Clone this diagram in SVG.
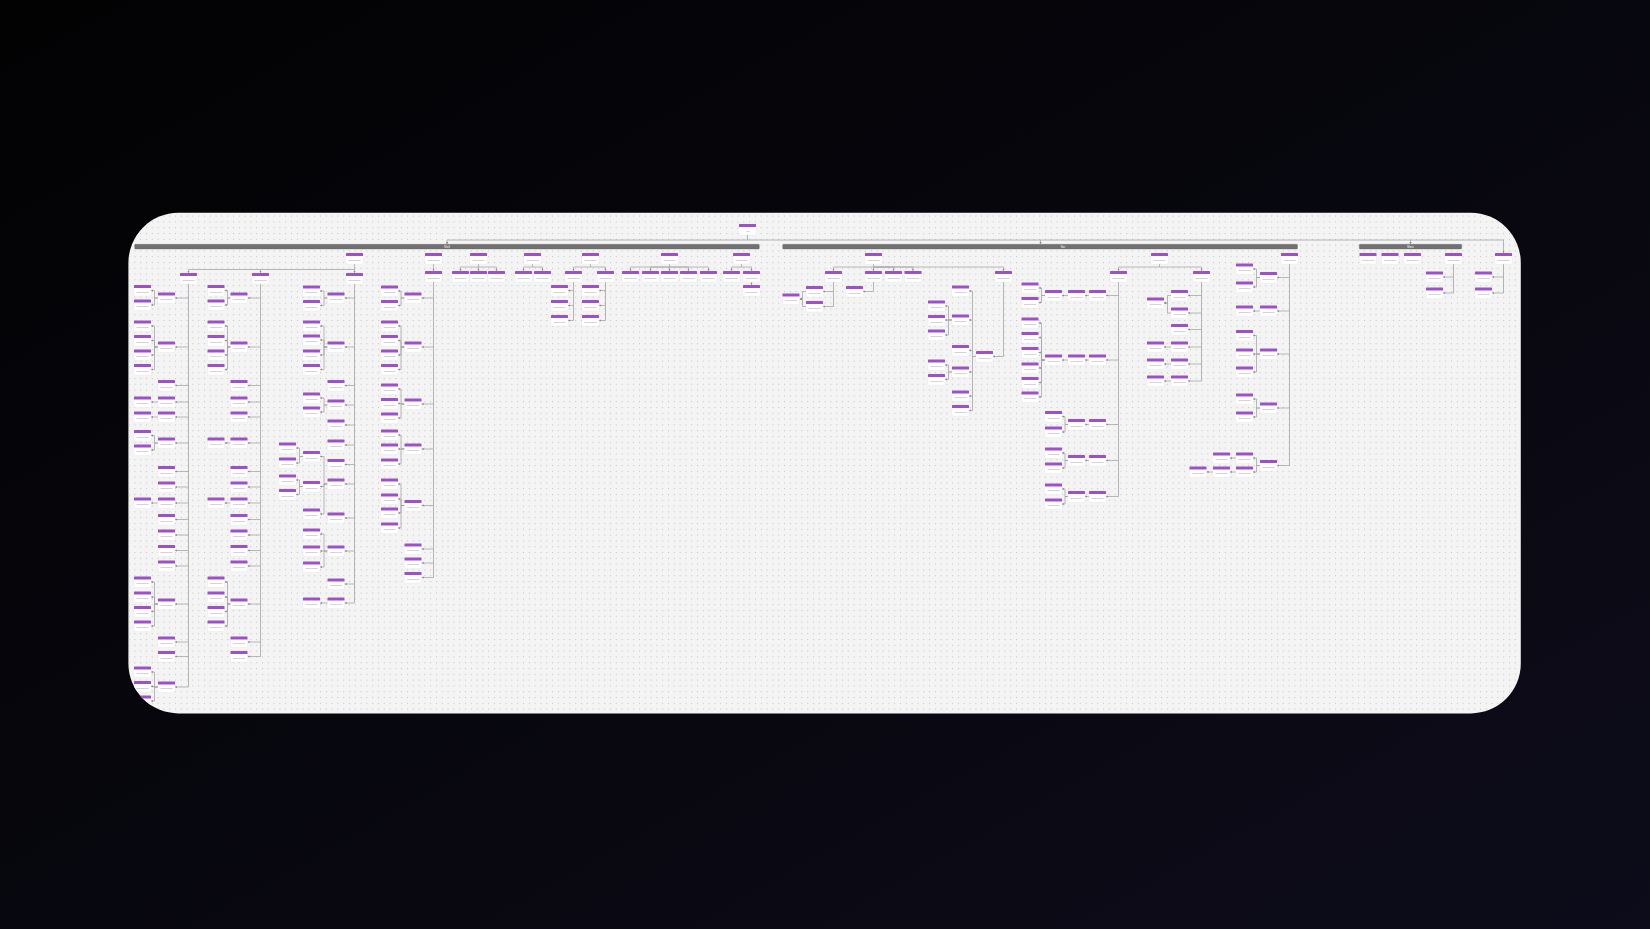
<svg xmlns="http://www.w3.org/2000/svg" width="1650" height="929" viewBox="0 0 1650 929">
<defs>
<linearGradient id="bg" x1="0" y1="0" x2="1" y2="1"><stop offset="0" stop-color="#020203"/><stop offset="1" stop-color="#0d0c1a"/></linearGradient>
<pattern id="dots" width="5.8" height="5.8" patternUnits="userSpaceOnUse"><circle cx="1.5" cy="1.5" r="0.6" fill="#bdbdbd"/></pattern>
<clipPath id="pc"><rect x="128.4" y="212.8" width="1392.4" height="500.6" rx="50"/></clipPath>
<marker id="a" viewBox="0 0 4 4" markerWidth="2.2" markerHeight="2.2" refX="4" refY="2" orient="auto" markerUnits="userSpaceOnUse"><path d="M0,0L4,2L0,4z" fill="#8a8a8a"/></marker>
<g id="nd"><rect width="17" height="11" rx="1" fill="#ffffff" stroke="#e0e0e0" stroke-width="0.3"/><rect width="17" height="3" rx="0.6" fill="#9c52c6"/></g>
</defs>
<style>
text{font-family:"Liberation Sans",Arial,sans-serif;font-size:2.3px;fill:#8a8a8a;text-anchor:middle}
.bl{font-size:2.6px;fill:#ffffff}
.bar{fill:#717171;stroke:#5c5c5c;stroke-width:0.3}
#edges path{fill:none;stroke:#a3a3a3;stroke-width:0.75;marker-end:url(#a)}
#trunks path{fill:none;stroke:#a3a3a3;stroke-width:0.8}
</style>
<rect width="1650" height="929" fill="url(#bg)"/>
<rect x="128.4" y="212.8" width="1392.4" height="500.6" rx="50" fill="#f4f4f4"/>
<g clip-path="url(#pc)">
<rect x="128" y="212" width="1394" height="502" fill="url(#dots)"/>
<g id="bars">
<rect class="bar" x="134.7" y="244.3" width="624.6" height="4.7" rx="0.8"/><text class="bl" x="447" y="247.6">Shell</text>
<rect class="bar" x="782.7" y="244.3" width="514.8" height="4.7" rx="0.8"/><text class="bl" x="1063" y="247.6">Bar</text>
<rect class="bar" x="1359.3" y="244.3" width="102.4" height="4.7" rx="0.8"/><text class="bl" x="1410.5" y="247.6">Menu</text>
</g>
<g id="trunks">
<path d="M747.5,235V240"/><path d="M447,240H1503.5"/>
<path d="M188.5,284V687"/><path d="M260.5,284V656.5"/><path d="M354.5,284V603"/><path d="M433.5,282V577.5"/>
<path d="M573.5,282V320.5"/><path d="M605.5,282V320.5"/>
<path d="M833.5,282V306.5"/><path d="M976,356.5H972.5"/><path d="M972.5,291V410.5"/>
<path d="M1118.5,282V496.5"/><path d="M1201.5,282V381"/><path d="M1289.5,264V465.5"/>
<path d="M1453.5,264V293"/><path d="M1503.5,264V293"/>
</g>
<g id="edges">
<path d="M447,240V244.3"/><path d="M1040.5,240V244.3"/><path d="M1410.5,240V244.3"/><path d="M1503.5,240V253"/>
<path d="M354.5,264V273"/><path d="M354.5,269.5H188.5V273"/><path d="M260.5,269.5V273"/>
<path d="M433.5,264V271"/>
<path d="M478.5,264V271"/><path d="M478.5,267H460.5V271"/><path d="M478.5,267H496.5V271"/>
<path d="M532.5,264V267H523.5V271"/><path d="M532.5,267H542.5V271"/>
<path d="M590.5,264V267H573.5V271"/><path d="M590.5,267H605.5V271"/>
<path d="M669.5,264V271"/><path d="M669.5,267H630.5V271"/><path d="M669.5,267H650.5V271"/><path d="M669.5,267H688.5V271"/><path d="M669.5,267H708.5V271"/>
<path d="M741.5,264V267H731.5V271"/><path d="M741.5,267H751.5V271"/><path d="M751.5,282V285"/>
<path d="M573.5,290.5H568"/><path d="M573.5,305.5H568"/><path d="M573.5,320.5H568"/>
<path d="M605.5,290.5H599"/><path d="M605.5,305.5H599"/><path d="M605.5,320.5H599"/>
<path d="M188.5,298H175"/><path d="M188.5,347H175"/><path d="M188.5,385.5H175"/><path d="M188.5,402H175"/><path d="M188.5,417H175"/><path d="M188.5,443H175"/><path d="M188.5,471.5H175"/><path d="M188.5,487H175"/><path d="M188.5,503H175"/><path d="M188.5,519.5H175"/><path d="M188.5,535H175"/><path d="M188.5,550.5H175"/><path d="M188.5,566H175"/><path d="M188.5,604H175"/><path d="M188.5,642H175"/><path d="M188.5,656.5H175"/><path d="M188.5,687H175"/>
<path d="M158,298H154.5V290.5H151"/><path d="M158,298H154.5V305H151"/>
<path d="M158,347H154.5V326H151"/><path d="M158,347H154.5V340.5H151"/><path d="M158,347H154.5V355H151"/><path d="M158,347H154.5V369.5H151"/>
<path d="M158,402H151"/><path d="M158,417H151"/>
<path d="M158,443H154.5V435.5H151"/><path d="M158,443H154.5V450H151"/>
<path d="M158,503H151"/>
<path d="M158,604H154.5V582H151"/><path d="M158,604H154.5V597H151"/><path d="M158,604H154.5V611.5H151"/><path d="M158,604H154.5V626H151"/>
<path d="M158,687H154.5V672H151"/><path d="M158,687H154.5V686.5H151"/><path d="M158,687H154.5V701H151"/>
<path d="M260.5,298H247.5"/><path d="M260.5,347H247.5"/><path d="M260.5,385.5H247.5"/><path d="M260.5,402H247.5"/><path d="M260.5,417H247.5"/><path d="M260.5,443H247.5"/><path d="M260.5,471.5H247.5"/><path d="M260.5,487H247.5"/><path d="M260.5,503H247.5"/><path d="M260.5,519.5H247.5"/><path d="M260.5,535H247.5"/><path d="M260.5,550.5H247.5"/><path d="M260.5,566H247.5"/><path d="M260.5,604H247.5"/><path d="M260.5,642H247.5"/><path d="M260.5,656.5H247.5"/>
<path d="M230.5,298H227.5V290.5H224.5"/><path d="M230.5,298H227.5V305H224.5"/>
<path d="M230.5,347H227.5V326H224.5"/><path d="M230.5,347H227.5V340.5H224.5"/><path d="M230.5,347H227.5V355H224.5"/><path d="M230.5,347H227.5V369.5H224.5"/>
<path d="M230.5,443H224.5"/><path d="M230.5,503H224.5"/>
<path d="M230.5,604H227.5V582H224.5"/><path d="M230.5,604H227.5V597H224.5"/><path d="M230.5,604H227.5V611.5H224.5"/><path d="M230.5,604H227.5V626H224.5"/>
<path d="M354.5,298H344.5"/><path d="M354.5,347H344.5"/><path d="M354.5,385.5H344.5"/><path d="M354.5,405H344.5"/><path d="M354.5,425H344.5"/><path d="M354.5,445H344.5"/><path d="M354.5,464.5H344.5"/><path d="M354.5,484H344.5"/><path d="M354.5,518H344.5"/><path d="M354.5,551H344.5"/><path d="M354.5,584H344.5"/><path d="M354.5,603H344.5"/>
<path d="M327.5,298H324V291H320"/><path d="M327.5,298H324V305.5H320"/>
<path d="M327.5,347H324V326H320"/><path d="M327.5,347H324V340H320"/><path d="M327.5,347H324V355H320"/><path d="M327.5,347H324V369.5H320"/>
<path d="M327.5,405H324V398H320"/><path d="M327.5,405H324V412H320"/>
<path d="M327.5,484H324V456.5H320"/><path d="M327.5,484H324V486.5H320"/><path d="M327.5,484H324V514H320"/>
<path d="M327.5,551H324V534H320"/><path d="M327.5,551H320"/><path d="M327.5,551H324V567H320"/>
<path d="M327.5,603H320"/>
<path d="M303,456.5H299.5V448H296"/><path d="M303,456.5H299.5V463H296"/>
<path d="M303,486.5H299.5V480H296"/><path d="M303,486.5H299.5V494.5H296"/>
<path d="M433.5,298H421.5"/><path d="M433.5,347H421.5"/><path d="M433.5,404H421.5"/><path d="M433.5,449H421.5"/><path d="M433.5,505.5H421.5"/><path d="M433.5,549H421.5"/><path d="M433.5,563H421.5"/><path d="M433.5,577.5H421.5"/>
<path d="M404.5,298H401V291H398"/><path d="M404.5,298H401V305.5H398"/>
<path d="M404.5,347H401V326H398"/><path d="M404.5,347H401V340.5H398"/><path d="M404.5,347H401V355H398"/><path d="M404.5,347H401V369.5H398"/>
<path d="M404.5,404H401V389H398"/><path d="M404.5,404H401V403.5H398"/><path d="M404.5,404H401V418H398"/>
<path d="M404.5,449H401V435H398"/><path d="M404.5,449H398"/><path d="M404.5,449H401V464H398"/>
<path d="M404.5,505.5H401V484H398"/><path d="M404.5,505.5H401V499H398"/><path d="M404.5,505.5H401V513H398"/><path d="M404.5,505.5H401V528H398"/>
<path d="M873.5,264V271"/><path d="M873.5,267H833.5V271"/><path d="M873.5,267H893.5V271"/><path d="M873.5,267H913V271"/><path d="M873.5,267H1003.5V271"/>
<path d="M833.5,291.5H823"/><path d="M833.5,306.5H823"/>
<path d="M806,291.5H802.5V299H799.5"/><path d="M806,306.5H802.5V299H799.5"/>
<path d="M873.5,282V291.5H863"/>
<path d="M1003.5,282V356.5H993"/>
<path d="M972.5,291H969"/><path d="M972.5,320H969"/><path d="M972.5,350.5H969"/><path d="M972.5,372H969"/><path d="M972.5,396H969"/><path d="M972.5,410.5H969"/>
<path d="M952,320H948.5V306H945"/><path d="M952,320H945"/><path d="M952,320H948.5V335H945"/>
<path d="M952,372H948.5V365H945"/><path d="M952,372H948.5V379.5H945"/>
<path d="M1159.5,264V267H1118.5V271"/><path d="M1159.5,267H1201.5V271"/>
<path d="M1118.5,295.5H1106"/><path d="M1118.5,360H1106"/><path d="M1118.5,424.5H1106"/><path d="M1118.5,460.5H1106"/><path d="M1118.5,496.5H1106"/>
<path d="M1089,295.5H1085"/><path d="M1089,360H1085"/><path d="M1089,424.5H1085"/><path d="M1089,460.5H1085"/><path d="M1089,496.5H1085"/>
<path d="M1068,295.5H1062"/><path d="M1068,360H1062"/>
<path d="M1045,295.5H1041.5V288H1038.5"/><path d="M1045,295.5H1041.5V302.5H1038.5"/>
<path d="M1045,360H1041.5V323H1038.5"/><path d="M1045,360H1041.5V337.5H1038.5"/><path d="M1045,360H1041.5V352.5H1038.5"/><path d="M1045,360H1041.5V368H1038.5"/><path d="M1045,360H1041.5V382.5H1038.5"/><path d="M1045,360H1041.5V397H1038.5"/>
<path d="M1068,424.5H1065V416.5H1062"/><path d="M1068,424.5H1065V432H1062"/>
<path d="M1068,460.5H1065V453H1062"/><path d="M1068,460.5H1065V468H1062"/>
<path d="M1068,496.5H1065V489H1062"/><path d="M1068,496.5H1065V504H1062"/>
<path d="M1201.5,295.5H1188"/><path d="M1201.5,313H1188"/><path d="M1201.5,329.5H1188"/><path d="M1201.5,347H1188"/><path d="M1201.5,364H1188"/><path d="M1201.5,381H1188"/>
<path d="M1171,295.5H1167.5V303H1164"/><path d="M1171,313H1167.5V303H1164"/>
<path d="M1171,347H1164"/><path d="M1171,364H1164"/><path d="M1171,381H1164"/>
<path d="M1289.5,277.5H1277"/><path d="M1289.5,311H1277"/><path d="M1289.5,354H1277"/><path d="M1289.5,408H1277"/><path d="M1289.5,465.5H1277"/>
<path d="M1260,277.5H1256.5V269H1253"/><path d="M1260,277.5H1256.5V287H1253"/>
<path d="M1260,311H1253"/>
<path d="M1260,354H1256.5V335.5H1253"/><path d="M1260,354H1253"/><path d="M1260,354H1256.5V372H1253"/>
<path d="M1260,408H1256.5V399H1253"/><path d="M1260,408H1256.5V417H1253"/>
<path d="M1260,465.5H1256.5V458H1253"/><path d="M1260,465.5H1256.5V472H1253"/>
<path d="M1236,458H1230"/><path d="M1236,472H1230"/><path d="M1213,472H1206.5"/>
<path d="M1453.5,277H1443"/><path d="M1453.5,293H1443"/>
<path d="M1503.5,277H1492"/><path d="M1503.5,293H1492"/>
</g>
<g id="nodes">
<g id="root"><use href="#nd" x="739" y="224"/><text x="747.5" y="231.8">App</text></g>
<g id="n1"><use href="#nd" x="346" y="253"/><text x="354.5" y="260.8">Component</text></g>
<g id="n2"><use href="#nd" x="425" y="253"/><text x="433.5" y="260.8">Component</text></g>
<g id="n3"><use href="#nd" x="470" y="253"/><text x="478.5" y="260.8">Component</text></g>
<g id="n4"><use href="#nd" x="524" y="253"/><text x="532.5" y="260.8">Component</text></g>
<g id="n5"><use href="#nd" x="582" y="253"/><text x="590.5" y="260.8">Component</text></g>
<g id="n6"><use href="#nd" x="661" y="253"/><text x="669.5" y="260.8">Component</text></g>
<g id="n7"><use href="#nd" x="733" y="253"/><text x="741.5" y="260.8">Component</text></g>
<g id="n8"><use href="#nd" x="180" y="273"/><text x="188.5" y="280.8">Component</text></g>
<g id="n9"><use href="#nd" x="252" y="273"/><text x="260.5" y="280.8">Component</text></g>
<g id="n10"><use href="#nd" x="346" y="273"/><text x="354.5" y="280.8">Component</text></g>
<g id="n11"><use href="#nd" x="425" y="271"/><text x="433.5" y="278.8">Component</text></g>
<g id="n12"><use href="#nd" x="452" y="271"/><text x="460.5" y="278.8">Component</text></g>
<g id="n13"><use href="#nd" x="470" y="271"/><text x="478.5" y="278.8">Component</text></g>
<g id="n14"><use href="#nd" x="488" y="271"/><text x="496.5" y="278.8">Component</text></g>
<g id="n15"><use href="#nd" x="515" y="271"/><text x="523.5" y="278.8">Component</text></g>
<g id="n16"><use href="#nd" x="534" y="271"/><text x="542.5" y="278.8">Component</text></g>
<g id="n17"><use href="#nd" x="565" y="271"/><text x="573.5" y="278.8">Component</text></g>
<g id="n18"><use href="#nd" x="597" y="271"/><text x="605.5" y="278.8">Component</text></g>
<g id="n19"><use href="#nd" x="622" y="271"/><text x="630.5" y="278.8">Component</text></g>
<g id="n20"><use href="#nd" x="642" y="271"/><text x="650.5" y="278.8">Component</text></g>
<g id="n21"><use href="#nd" x="661" y="271"/><text x="669.5" y="278.8">Component</text></g>
<g id="n22"><use href="#nd" x="680" y="271"/><text x="688.5" y="278.8">Component</text></g>
<g id="n23"><use href="#nd" x="700" y="271"/><text x="708.5" y="278.8">Component</text></g>
<g id="n24"><use href="#nd" x="723" y="271"/><text x="731.5" y="278.8">Component</text></g>
<g id="n25"><use href="#nd" x="743" y="271"/><text x="751.5" y="278.8">Component</text></g>
<g id="n26"><use href="#nd" x="743" y="285"/><text x="751.5" y="292.8">Component</text></g>
<g id="n27"><use href="#nd" x="551" y="285"/><text x="559.5" y="292.8">Component</text></g>
<g id="n28"><use href="#nd" x="551" y="300"/><text x="559.5" y="307.8">Component</text></g>
<g id="n29"><use href="#nd" x="551" y="315"/><text x="559.5" y="322.8">Component</text></g>
<g id="n30"><use href="#nd" x="582" y="285"/><text x="590.5" y="292.8">Component</text></g>
<g id="n31"><use href="#nd" x="582" y="300"/><text x="590.5" y="307.8">Component</text></g>
<g id="n32"><use href="#nd" x="582" y="315"/><text x="590.5" y="322.8">Component</text></g>
<g id="n33"><use href="#nd" x="158" y="292.5"/><text x="166.5" y="300.3">Component</text></g>
<g id="n34"><use href="#nd" x="158" y="341.5"/><text x="166.5" y="349.3">Component</text></g>
<g id="n35"><use href="#nd" x="158" y="380"/><text x="166.5" y="387.8">Component</text></g>
<g id="n36"><use href="#nd" x="158" y="396.5"/><text x="166.5" y="404.3">Component</text></g>
<g id="n37"><use href="#nd" x="158" y="411.5"/><text x="166.5" y="419.3">Component</text></g>
<g id="n38"><use href="#nd" x="158" y="437.5"/><text x="166.5" y="445.3">Component</text></g>
<g id="n39"><use href="#nd" x="158" y="466"/><text x="166.5" y="473.8">Component</text></g>
<g id="n40"><use href="#nd" x="158" y="481.5"/><text x="166.5" y="489.3">Component</text></g>
<g id="n41"><use href="#nd" x="158" y="497.5"/><text x="166.5" y="505.3">Component</text></g>
<g id="n42"><use href="#nd" x="158" y="514"/><text x="166.5" y="521.8">Component</text></g>
<g id="n43"><use href="#nd" x="158" y="529.5"/><text x="166.5" y="537.3">Component</text></g>
<g id="n44"><use href="#nd" x="158" y="545"/><text x="166.5" y="552.8">Component</text></g>
<g id="n45"><use href="#nd" x="158" y="560.5"/><text x="166.5" y="568.3">Component</text></g>
<g id="n46"><use href="#nd" x="158" y="598.5"/><text x="166.5" y="606.3">Component</text></g>
<g id="n47"><use href="#nd" x="158" y="636.5"/><text x="166.5" y="644.3">Component</text></g>
<g id="n48"><use href="#nd" x="158" y="651"/><text x="166.5" y="658.8">Component</text></g>
<g id="n49"><use href="#nd" x="158" y="681.5"/><text x="166.5" y="689.3">Component</text></g>
<g id="n50"><use href="#nd" x="134" y="285"/><text x="142.5" y="292.8">Component</text></g>
<g id="n51"><use href="#nd" x="134" y="299.5"/><text x="142.5" y="307.3">Component</text></g>
<g id="n52"><use href="#nd" x="134" y="320.5"/><text x="142.5" y="328.3">Component</text></g>
<g id="n53"><use href="#nd" x="134" y="335"/><text x="142.5" y="342.8">Component</text></g>
<g id="n54"><use href="#nd" x="134" y="349.5"/><text x="142.5" y="357.3">Component</text></g>
<g id="n55"><use href="#nd" x="134" y="364"/><text x="142.5" y="371.8">Component</text></g>
<g id="n56"><use href="#nd" x="134" y="396.5"/><text x="142.5" y="404.3">Component</text></g>
<g id="n57"><use href="#nd" x="134" y="411.5"/><text x="142.5" y="419.3">Component</text></g>
<g id="n58"><use href="#nd" x="134" y="430"/><text x="142.5" y="437.8">Component</text></g>
<g id="n59"><use href="#nd" x="134" y="444.5"/><text x="142.5" y="452.3">Component</text></g>
<g id="n60"><use href="#nd" x="134" y="497.5"/><text x="142.5" y="505.3">Component</text></g>
<g id="n61"><use href="#nd" x="134" y="576.5"/><text x="142.5" y="584.3">Component</text></g>
<g id="n62"><use href="#nd" x="134" y="591.5"/><text x="142.5" y="599.3">Component</text></g>
<g id="n63"><use href="#nd" x="134" y="606"/><text x="142.5" y="613.8">Component</text></g>
<g id="n64"><use href="#nd" x="134" y="620.5"/><text x="142.5" y="628.3">Component</text></g>
<g id="n65"><use href="#nd" x="134" y="666.5"/><text x="142.5" y="674.3">Component</text></g>
<g id="n66"><use href="#nd" x="134" y="681"/><text x="142.5" y="688.8">Component</text></g>
<g id="n67"><use href="#nd" x="134" y="695.5"/><text x="142.5" y="703.3">Component</text></g>
<g id="n68"><use href="#nd" x="230.5" y="292.5"/><text x="239" y="300.3">Component</text></g>
<g id="n69"><use href="#nd" x="230.5" y="341.5"/><text x="239" y="349.3">Component</text></g>
<g id="n70"><use href="#nd" x="230.5" y="380"/><text x="239" y="387.8">Component</text></g>
<g id="n71"><use href="#nd" x="230.5" y="396.5"/><text x="239" y="404.3">Component</text></g>
<g id="n72"><use href="#nd" x="230.5" y="411.5"/><text x="239" y="419.3">Component</text></g>
<g id="n73"><use href="#nd" x="230.5" y="437.5"/><text x="239" y="445.3">Component</text></g>
<g id="n74"><use href="#nd" x="230.5" y="466"/><text x="239" y="473.8">Component</text></g>
<g id="n75"><use href="#nd" x="230.5" y="481.5"/><text x="239" y="489.3">Component</text></g>
<g id="n76"><use href="#nd" x="230.5" y="497.5"/><text x="239" y="505.3">Component</text></g>
<g id="n77"><use href="#nd" x="230.5" y="514"/><text x="239" y="521.8">Component</text></g>
<g id="n78"><use href="#nd" x="230.5" y="529.5"/><text x="239" y="537.3">Component</text></g>
<g id="n79"><use href="#nd" x="230.5" y="545"/><text x="239" y="552.8">Component</text></g>
<g id="n80"><use href="#nd" x="230.5" y="560.5"/><text x="239" y="568.3">Component</text></g>
<g id="n81"><use href="#nd" x="230.5" y="598.5"/><text x="239" y="606.3">Component</text></g>
<g id="n82"><use href="#nd" x="230.5" y="636.5"/><text x="239" y="644.3">Component</text></g>
<g id="n83"><use href="#nd" x="230.5" y="651"/><text x="239" y="658.8">Component</text></g>
<g id="n84"><use href="#nd" x="207.5" y="285"/><text x="216" y="292.8">Component</text></g>
<g id="n85"><use href="#nd" x="207.5" y="299.5"/><text x="216" y="307.3">Component</text></g>
<g id="n86"><use href="#nd" x="207.5" y="320.5"/><text x="216" y="328.3">Component</text></g>
<g id="n87"><use href="#nd" x="207.5" y="335"/><text x="216" y="342.8">Component</text></g>
<g id="n88"><use href="#nd" x="207.5" y="349.5"/><text x="216" y="357.3">Component</text></g>
<g id="n89"><use href="#nd" x="207.5" y="364"/><text x="216" y="371.8">Component</text></g>
<g id="n90"><use href="#nd" x="207.5" y="437.5"/><text x="216" y="445.3">Component</text></g>
<g id="n91"><use href="#nd" x="207.5" y="497.5"/><text x="216" y="505.3">Component</text></g>
<g id="n92"><use href="#nd" x="207.5" y="576.5"/><text x="216" y="584.3">Component</text></g>
<g id="n93"><use href="#nd" x="207.5" y="591.5"/><text x="216" y="599.3">Component</text></g>
<g id="n94"><use href="#nd" x="207.5" y="606"/><text x="216" y="613.8">Component</text></g>
<g id="n95"><use href="#nd" x="207.5" y="620.5"/><text x="216" y="628.3">Component</text></g>
<g id="n96"><use href="#nd" x="327.5" y="292.5"/><text x="336" y="300.3">Component</text></g>
<g id="n97"><use href="#nd" x="327.5" y="341.5"/><text x="336" y="349.3">Component</text></g>
<g id="n98"><use href="#nd" x="327.5" y="380"/><text x="336" y="387.8">Component</text></g>
<g id="n99"><use href="#nd" x="327.5" y="399.5"/><text x="336" y="407.3">Component</text></g>
<g id="n100"><use href="#nd" x="327.5" y="419.5"/><text x="336" y="427.3">Component</text></g>
<g id="n101"><use href="#nd" x="327.5" y="439.5"/><text x="336" y="447.3">Component</text></g>
<g id="n102"><use href="#nd" x="327.5" y="459"/><text x="336" y="466.8">Component</text></g>
<g id="n103"><use href="#nd" x="327.5" y="478.5"/><text x="336" y="486.3">Component</text></g>
<g id="n104"><use href="#nd" x="327.5" y="512.5"/><text x="336" y="520.3">Component</text></g>
<g id="n105"><use href="#nd" x="327.5" y="545.5"/><text x="336" y="553.3">Component</text></g>
<g id="n106"><use href="#nd" x="327.5" y="578.5"/><text x="336" y="586.3">Component</text></g>
<g id="n107"><use href="#nd" x="327.5" y="597.5"/><text x="336" y="605.3">Component</text></g>
<g id="n108"><use href="#nd" x="303" y="285.5"/><text x="311.5" y="293.3">Component</text></g>
<g id="n109"><use href="#nd" x="303" y="300"/><text x="311.5" y="307.8">Component</text></g>
<g id="n110"><use href="#nd" x="303" y="320.5"/><text x="311.5" y="328.3">Component</text></g>
<g id="n111"><use href="#nd" x="303" y="334.5"/><text x="311.5" y="342.3">Component</text></g>
<g id="n112"><use href="#nd" x="303" y="349.5"/><text x="311.5" y="357.3">Component</text></g>
<g id="n113"><use href="#nd" x="303" y="364"/><text x="311.5" y="371.8">Component</text></g>
<g id="n114"><use href="#nd" x="303" y="392.5"/><text x="311.5" y="400.3">Component</text></g>
<g id="n115"><use href="#nd" x="303" y="406.5"/><text x="311.5" y="414.3">Component</text></g>
<g id="n116"><use href="#nd" x="303" y="451"/><text x="311.5" y="458.8">Component</text></g>
<g id="n117"><use href="#nd" x="303" y="481"/><text x="311.5" y="488.8">Component</text></g>
<g id="n118"><use href="#nd" x="303" y="508.5"/><text x="311.5" y="516.3">Component</text></g>
<g id="n119"><use href="#nd" x="303" y="528.5"/><text x="311.5" y="536.3">Component</text></g>
<g id="n120"><use href="#nd" x="303" y="545.5"/><text x="311.5" y="553.3">Component</text></g>
<g id="n121"><use href="#nd" x="303" y="561.5"/><text x="311.5" y="569.3">Component</text></g>
<g id="n122"><use href="#nd" x="303" y="597.5"/><text x="311.5" y="605.3">Component</text></g>
<g id="n123"><use href="#nd" x="279" y="442.5"/><text x="287.5" y="450.3">Component</text></g>
<g id="n124"><use href="#nd" x="279" y="457.5"/><text x="287.5" y="465.3">Component</text></g>
<g id="n125"><use href="#nd" x="279" y="474.5"/><text x="287.5" y="482.3">Component</text></g>
<g id="n126"><use href="#nd" x="279" y="489"/><text x="287.5" y="496.8">Component</text></g>
<g id="n127"><use href="#nd" x="404.5" y="292.5"/><text x="413" y="300.3">Component</text></g>
<g id="n128"><use href="#nd" x="404.5" y="341.5"/><text x="413" y="349.3">Component</text></g>
<g id="n129"><use href="#nd" x="404.5" y="398.5"/><text x="413" y="406.3">Component</text></g>
<g id="n130"><use href="#nd" x="404.5" y="443.5"/><text x="413" y="451.3">Component</text></g>
<g id="n131"><use href="#nd" x="404.5" y="500"/><text x="413" y="507.8">Component</text></g>
<g id="n132"><use href="#nd" x="404.5" y="543.5"/><text x="413" y="551.3">Component</text></g>
<g id="n133"><use href="#nd" x="404.5" y="557.5"/><text x="413" y="565.3">Component</text></g>
<g id="n134"><use href="#nd" x="404.5" y="572"/><text x="413" y="579.8">Component</text></g>
<g id="n135"><use href="#nd" x="381" y="285.5"/><text x="389.5" y="293.3">Component</text></g>
<g id="n136"><use href="#nd" x="381" y="300"/><text x="389.5" y="307.8">Component</text></g>
<g id="n137"><use href="#nd" x="381" y="320.5"/><text x="389.5" y="328.3">Component</text></g>
<g id="n138"><use href="#nd" x="381" y="335"/><text x="389.5" y="342.8">Component</text></g>
<g id="n139"><use href="#nd" x="381" y="349.5"/><text x="389.5" y="357.3">Component</text></g>
<g id="n140"><use href="#nd" x="381" y="364"/><text x="389.5" y="371.8">Component</text></g>
<g id="n141"><use href="#nd" x="381" y="383.5"/><text x="389.5" y="391.3">Component</text></g>
<g id="n142"><use href="#nd" x="381" y="398"/><text x="389.5" y="405.8">Component</text></g>
<g id="n143"><use href="#nd" x="381" y="412.5"/><text x="389.5" y="420.3">Component</text></g>
<g id="n144"><use href="#nd" x="381" y="429.5"/><text x="389.5" y="437.3">Component</text></g>
<g id="n145"><use href="#nd" x="381" y="443.5"/><text x="389.5" y="451.3">Component</text></g>
<g id="n146"><use href="#nd" x="381" y="458.5"/><text x="389.5" y="466.3">Component</text></g>
<g id="n147"><use href="#nd" x="381" y="478.5"/><text x="389.5" y="486.3">Component</text></g>
<g id="n148"><use href="#nd" x="381" y="493.5"/><text x="389.5" y="501.3">Component</text></g>
<g id="n149"><use href="#nd" x="381" y="507.5"/><text x="389.5" y="515.3">Component</text></g>
<g id="n150"><use href="#nd" x="381" y="522.5"/><text x="389.5" y="530.3">Component</text></g>
<g id="n151"><use href="#nd" x="865" y="253"/><text x="873.5" y="260.8">Component</text></g>
<g id="n152"><use href="#nd" x="825" y="271"/><text x="833.5" y="278.8">Component</text></g>
<g id="n153"><use href="#nd" x="865" y="271"/><text x="873.5" y="278.8">Component</text></g>
<g id="n154"><use href="#nd" x="885" y="271"/><text x="893.5" y="278.8">Component</text></g>
<g id="n155"><use href="#nd" x="904.5" y="271"/><text x="913" y="278.8">Component</text></g>
<g id="n156"><use href="#nd" x="995" y="271"/><text x="1003.5" y="278.8">Component</text></g>
<g id="n157"><use href="#nd" x="806" y="286"/><text x="814.5" y="293.8">Component</text></g>
<g id="n158"><use href="#nd" x="806" y="301"/><text x="814.5" y="308.8">Component</text></g>
<g id="n159"><use href="#nd" x="782.5" y="293.5"/><text x="791" y="301.3">Component</text></g>
<g id="n160"><use href="#nd" x="846" y="286"/><text x="854.5" y="293.8">Component</text></g>
<g id="n161"><use href="#nd" x="976" y="351"/><text x="984.5" y="358.8">Component</text></g>
<g id="n162"><use href="#nd" x="952" y="285.5"/><text x="960.5" y="293.3">Component</text></g>
<g id="n163"><use href="#nd" x="952" y="314.5"/><text x="960.5" y="322.3">Component</text></g>
<g id="n164"><use href="#nd" x="952" y="345"/><text x="960.5" y="352.8">Component</text></g>
<g id="n165"><use href="#nd" x="952" y="366.5"/><text x="960.5" y="374.3">Component</text></g>
<g id="n166"><use href="#nd" x="952" y="390.5"/><text x="960.5" y="398.3">Component</text></g>
<g id="n167"><use href="#nd" x="952" y="405"/><text x="960.5" y="412.8">Component</text></g>
<g id="n168"><use href="#nd" x="928" y="300.5"/><text x="936.5" y="308.3">Component</text></g>
<g id="n169"><use href="#nd" x="928" y="315"/><text x="936.5" y="322.8">Component</text></g>
<g id="n170"><use href="#nd" x="928" y="329.5"/><text x="936.5" y="337.3">Component</text></g>
<g id="n171"><use href="#nd" x="928" y="359.5"/><text x="936.5" y="367.3">Component</text></g>
<g id="n172"><use href="#nd" x="928" y="374"/><text x="936.5" y="381.8">Component</text></g>
<g id="n173"><use href="#nd" x="1151" y="253"/><text x="1159.5" y="260.8">Component</text></g>
<g id="n174"><use href="#nd" x="1110" y="271"/><text x="1118.5" y="278.8">Component</text></g>
<g id="n175"><use href="#nd" x="1193" y="271"/><text x="1201.5" y="278.8">Component</text></g>
<g id="n176"><use href="#nd" x="1089" y="290"/><text x="1097.5" y="297.8">Component</text></g>
<g id="n177"><use href="#nd" x="1089" y="354.5"/><text x="1097.5" y="362.3">Component</text></g>
<g id="n178"><use href="#nd" x="1089" y="419"/><text x="1097.5" y="426.8">Component</text></g>
<g id="n179"><use href="#nd" x="1089" y="455"/><text x="1097.5" y="462.8">Component</text></g>
<g id="n180"><use href="#nd" x="1089" y="491"/><text x="1097.5" y="498.8">Component</text></g>
<g id="n181"><use href="#nd" x="1068" y="290"/><text x="1076.5" y="297.8">Component</text></g>
<g id="n182"><use href="#nd" x="1068" y="354.5"/><text x="1076.5" y="362.3">Component</text></g>
<g id="n183"><use href="#nd" x="1068" y="419"/><text x="1076.5" y="426.8">Component</text></g>
<g id="n184"><use href="#nd" x="1068" y="455"/><text x="1076.5" y="462.8">Component</text></g>
<g id="n185"><use href="#nd" x="1068" y="491"/><text x="1076.5" y="498.8">Component</text></g>
<g id="n186"><use href="#nd" x="1045" y="290"/><text x="1053.5" y="297.8">Component</text></g>
<g id="n187"><use href="#nd" x="1045" y="354.5"/><text x="1053.5" y="362.3">Component</text></g>
<g id="n188"><use href="#nd" x="1045" y="411"/><text x="1053.5" y="418.8">Component</text></g>
<g id="n189"><use href="#nd" x="1045" y="426.5"/><text x="1053.5" y="434.3">Component</text></g>
<g id="n190"><use href="#nd" x="1045" y="447.5"/><text x="1053.5" y="455.3">Component</text></g>
<g id="n191"><use href="#nd" x="1045" y="462.5"/><text x="1053.5" y="470.3">Component</text></g>
<g id="n192"><use href="#nd" x="1045" y="483.5"/><text x="1053.5" y="491.3">Component</text></g>
<g id="n193"><use href="#nd" x="1045" y="498.5"/><text x="1053.5" y="506.3">Component</text></g>
<g id="n194"><use href="#nd" x="1021.5" y="282.5"/><text x="1030" y="290.3">Component</text></g>
<g id="n195"><use href="#nd" x="1021.5" y="297"/><text x="1030" y="304.8">Component</text></g>
<g id="n196"><use href="#nd" x="1021.5" y="317.5"/><text x="1030" y="325.3">Component</text></g>
<g id="n197"><use href="#nd" x="1021.5" y="332"/><text x="1030" y="339.8">Component</text></g>
<g id="n198"><use href="#nd" x="1021.5" y="347"/><text x="1030" y="354.8">Component</text></g>
<g id="n199"><use href="#nd" x="1021.5" y="362.5"/><text x="1030" y="370.3">Component</text></g>
<g id="n200"><use href="#nd" x="1021.5" y="377"/><text x="1030" y="384.8">Component</text></g>
<g id="n201"><use href="#nd" x="1021.5" y="391.5"/><text x="1030" y="399.3">Component</text></g>
<g id="n202"><use href="#nd" x="1171" y="290"/><text x="1179.5" y="297.8">Component</text></g>
<g id="n203"><use href="#nd" x="1171" y="307.5"/><text x="1179.5" y="315.3">Component</text></g>
<g id="n204"><use href="#nd" x="1171" y="324"/><text x="1179.5" y="331.8">Component</text></g>
<g id="n205"><use href="#nd" x="1171" y="341.5"/><text x="1179.5" y="349.3">Component</text></g>
<g id="n206"><use href="#nd" x="1171" y="358.5"/><text x="1179.5" y="366.3">Component</text></g>
<g id="n207"><use href="#nd" x="1171" y="375.5"/><text x="1179.5" y="383.3">Component</text></g>
<g id="n208"><use href="#nd" x="1147" y="297.5"/><text x="1155.5" y="305.3">Component</text></g>
<g id="n209"><use href="#nd" x="1147" y="341.5"/><text x="1155.5" y="349.3">Component</text></g>
<g id="n210"><use href="#nd" x="1147" y="358.5"/><text x="1155.5" y="366.3">Component</text></g>
<g id="n211"><use href="#nd" x="1147" y="375.5"/><text x="1155.5" y="383.3">Component</text></g>
<g id="n212"><use href="#nd" x="1281" y="253"/><text x="1289.5" y="260.8">Component</text></g>
<g id="n213"><use href="#nd" x="1260" y="272"/><text x="1268.5" y="279.8">Component</text></g>
<g id="n214"><use href="#nd" x="1260" y="305.5"/><text x="1268.5" y="313.3">Component</text></g>
<g id="n215"><use href="#nd" x="1260" y="348.5"/><text x="1268.5" y="356.3">Component</text></g>
<g id="n216"><use href="#nd" x="1260" y="402.5"/><text x="1268.5" y="410.3">Component</text></g>
<g id="n217"><use href="#nd" x="1260" y="460"/><text x="1268.5" y="467.8">Component</text></g>
<g id="n218"><use href="#nd" x="1236" y="263.5"/><text x="1244.5" y="271.3">Component</text></g>
<g id="n219"><use href="#nd" x="1236" y="281.5"/><text x="1244.5" y="289.3">Component</text></g>
<g id="n220"><use href="#nd" x="1236" y="305.5"/><text x="1244.5" y="313.3">Component</text></g>
<g id="n221"><use href="#nd" x="1236" y="330"/><text x="1244.5" y="337.8">Component</text></g>
<g id="n222"><use href="#nd" x="1236" y="348.5"/><text x="1244.5" y="356.3">Component</text></g>
<g id="n223"><use href="#nd" x="1236" y="366.5"/><text x="1244.5" y="374.3">Component</text></g>
<g id="n224"><use href="#nd" x="1236" y="393.5"/><text x="1244.5" y="401.3">Component</text></g>
<g id="n225"><use href="#nd" x="1236" y="411.5"/><text x="1244.5" y="419.3">Component</text></g>
<g id="n226"><use href="#nd" x="1236" y="452.5"/><text x="1244.5" y="460.3">Component</text></g>
<g id="n227"><use href="#nd" x="1236" y="466.5"/><text x="1244.5" y="474.3">Component</text></g>
<g id="n228"><use href="#nd" x="1213" y="452.5"/><text x="1221.5" y="460.3">Component</text></g>
<g id="n229"><use href="#nd" x="1213" y="466.5"/><text x="1221.5" y="474.3">Component</text></g>
<g id="n230"><use href="#nd" x="1189.5" y="466.5"/><text x="1198" y="474.3">Component</text></g>
<g id="n231"><use href="#nd" x="1359.5" y="253"/><text x="1368" y="260.8">Component</text></g>
<g id="n232"><use href="#nd" x="1381.5" y="253"/><text x="1390" y="260.8">Component</text></g>
<g id="n233"><use href="#nd" x="1404" y="253"/><text x="1412.5" y="260.8">Component</text></g>
<g id="n234"><use href="#nd" x="1445" y="253"/><text x="1453.5" y="260.8">Component</text></g>
<g id="n235"><use href="#nd" x="1495" y="253"/><text x="1503.5" y="260.8">Component</text></g>
<g id="n236"><use href="#nd" x="1426" y="271.5"/><text x="1434.5" y="279.3">Component</text></g>
<g id="n237"><use href="#nd" x="1426" y="287.5"/><text x="1434.5" y="295.3">Component</text></g>
<g id="n238"><use href="#nd" x="1475" y="271.5"/><text x="1483.5" y="279.3">Component</text></g>
<g id="n239"><use href="#nd" x="1475" y="287.5"/><text x="1483.5" y="295.3">Component</text></g>
</g>
</g>
</svg>
